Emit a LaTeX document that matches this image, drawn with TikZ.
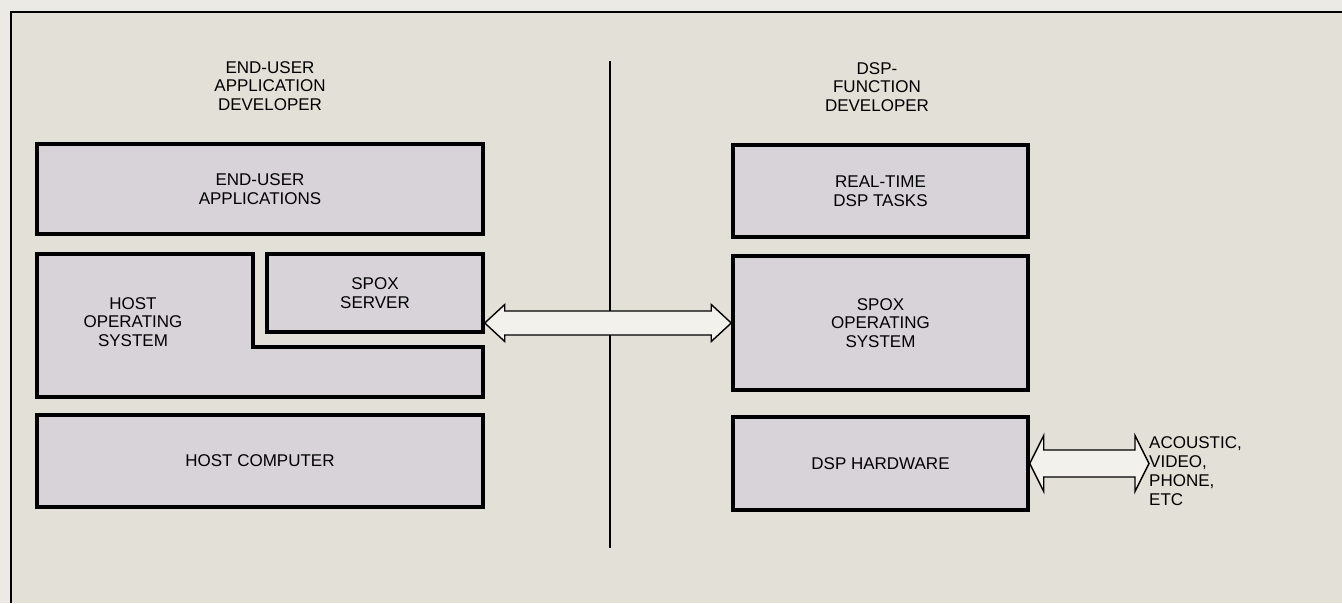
\documentclass[tikz,border=0pt]{standalone}
\usepackage{fontspec}
\setmainfont{Liberation Sans}
\usetikzlibrary{calc}
\definecolor{paper}{HTML}{E3E0D8}
\definecolor{margin}{HTML}{ECEAE4}
\definecolor{boxfill}{HTML}{D8D3D9}
\definecolor{busfill}{HTML}{F3F1EC}
\newcommand{\fatarrow}[5]{%
  \draw[bus] let \p1=(#1), \p2=(#2) in
    (\x1,\y1) -- (\x1+#5,\y1+#4) -- (\x1+#5,\y1+#3) -- (\x2-#5,\y1+#3) -- (\x2-#5,\y1+#4) --
    (\x2,\y1) -- (\x2-#5,\y1-#4) -- (\x2-#5,\y1-#3) -- (\x1+#5,\y1-#3) -- (\x1+#5,\y1-#4) -- cycle;}
\begin{document}
\begin{tikzpicture}[x=1pt,y=-1pt,
	layer/.style={ draw, line width=3.5pt, fill=boxfill, inner sep=0pt, align=center, font=\fontsize{17}{18.8}\selectfont },
	caption/.style={ inner sep=0pt, align=center, font=\fontsize{17}{18.8}\selectfont },
	bus/.style={ draw, line width=1.4pt, fill=busfill, line join=miter }
]

\useasboundingbox (0,0) rectangle (1342,603);
\fill[margin] (0,0) rectangle (1342,603);
\fill[paper] (11,12) rectangle (1342,603);
\draw[line width=1.3pt] (11,603) -- (11,12) -- (1342,12);

\node at (270,86) (appdev) [caption] {END-USER\\APPLICATION\\DEVELOPER};
\node at (877,87) (dspdev) [caption] {DSP-\\FUNCTION\\DEVELOPER};
\coordinate (divtop) at (610,61);
\coordinate (divbot) at (610,548);
\draw[line width=2pt] (divtop) -- (divbot);

\node at (260,189) (apps) [layer,minimum width=446,minimum height=90] {END-USER\\APPLICATIONS};
\draw[layer] (37,254) -- (253,254) -- (253,347) -- (483,347) -- (483,397) -- (37,397) -- cycle;
\node at (133,322) (hostos) [caption] {HOST\\OPERATING\\SYSTEM};
\node at (375,293) (server) [layer,minimum width=216,minimum height=78] {SPOX\\SERVER};
\node at (260,461) (hostpc) [layer,minimum width=446,minimum height=92] {HOST COMPUTER};

\node at (880.5,191) (tasks) [layer,minimum width=295,minimum height=92] {REAL-TIME\\DSP TASKS};
\node at (880.5,323) (spoxos) [layer,minimum width=295,minimum height=134] {SPOX\\OPERATING\\SYSTEM};
\node at (880.5,463.5) (hardware) [layer,minimum width=295,minimum height=93] {DSP HARDWARE};
\node at (1149,471) (signals) [caption,anchor=west,align=left] {ACOUSTIC,\\VIDEO,\\PHONE,\\ETC};

\fatarrow{server.east |- spoxos.west}{spoxos.west}{12}{18.5}{20}
\fatarrow{hardware.east}{signals.west}{13.5}{28}{14}

\end{tikzpicture}
\end{document}
